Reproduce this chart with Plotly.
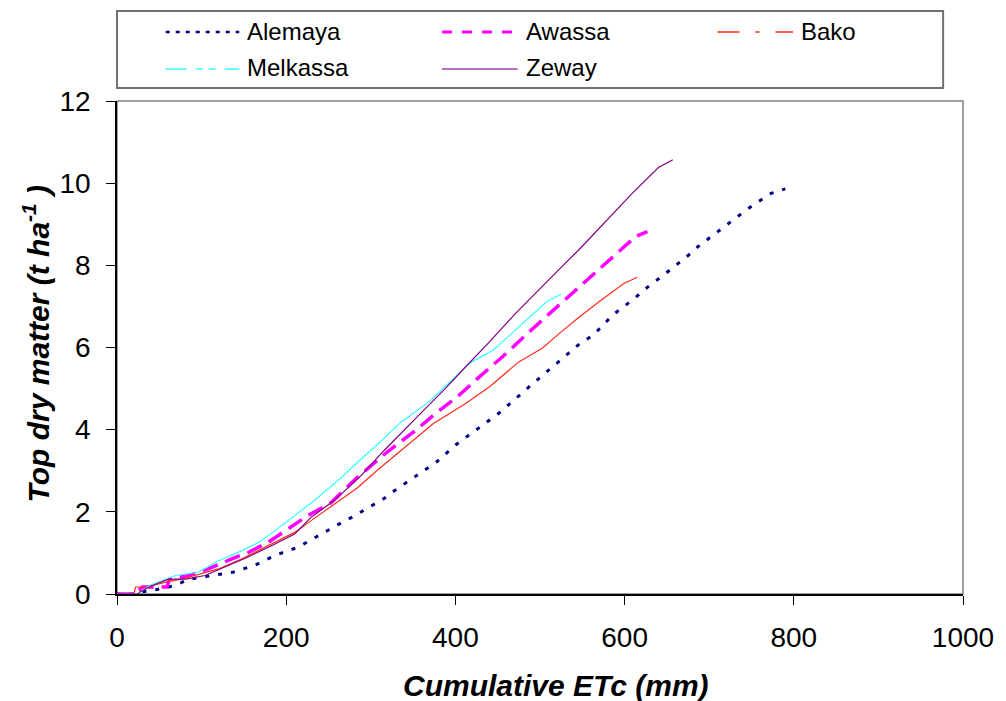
import plotly.graph_objects as go

# Cumulative crop evapotranspiration (mm) and top dry matter (t/ha) per site
alemaya_etc = [0, 25, 29, 45, 61, 70, 85, 110, 137, 163, 188, 214, 237, 264, 278, 316, 327, 351,
               378, 401, 425, 452, 487, 525, 548, 563, 586, 612, 624, 649, 674, 687, 710, 724,
               748, 773, 790]
alemaya_dm = [0, 0, 0.05, 0.10, 0.17, 0.22, 0.36, 0.44, 0.53, 0.70, 0.95, 1.14, 1.41, 1.72, 1.87,
              2.33, 2.50, 2.84, 3.22, 3.64, 4.00, 4.41, 5.04, 5.70, 6.11, 6.30, 6.79, 7.20, 7.42,
              7.81, 8.22, 8.46, 8.82, 9.02, 9.41, 9.75, 9.86]

awassa_etc = [0, 23, 25, 30, 59, 62, 85, 108, 135, 155, 178, 202, 225, 253, 282, 319, 354, 374,
              405, 428, 456, 492, 525, 558, 581, 613, 627]
awassa_dm = [0, 0, 0.08, 0.17, 0.17, 0.36, 0.45, 0.61, 0.85, 1.01, 1.25, 1.58, 1.90, 2.22, 2.80,
             3.45, 4.00, 4.35, 4.85, 5.28, 5.78, 6.47, 7.08, 7.68, 8.12, 8.70, 8.82]

bako_etc = [0, 20, 22, 29, 41, 60, 76, 96, 120, 147, 167, 186, 210, 229, 262, 284, 307, 331, 354,
            374, 413, 440, 475, 503, 525, 545, 569, 599, 615]
bako_dm = [0, 0, 0.17, 0.17, 0.20, 0.30, 0.36, 0.48, 0.61, 0.85, 1.05, 1.25, 1.50, 1.78, 2.25,
           2.58, 3.00, 3.42, 3.80, 4.15, 4.65, 5.04, 5.65, 5.99, 6.38, 6.72, 7.10, 7.56, 7.71]

melkassa_etc = [0, 25, 28, 38, 57, 69, 96, 120, 147, 167, 186, 214, 234, 264, 284, 310, 335, 370,
                393, 417, 445, 480, 507, 525]
melkassa_dm = [0, 0, 0.05, 0.20, 0.36, 0.45, 0.53, 0.81, 1.05, 1.25, 1.53, 1.98, 2.29, 2.81,
               3.20, 3.68, 4.17, 4.70, 5.16, 5.62, 5.94, 6.59, 7.10, 7.30]

zeway_etc = [0, 25, 27, 41, 61, 81, 104, 131, 155, 182, 210, 229, 257, 287, 316, 358, 388, 413,
             440, 472, 509, 525, 546, 568, 609, 640, 657]
zeway_dm = [0, 0, 0.05, 0.20, 0.36, 0.36, 0.45, 0.69, 0.90, 1.17, 1.46, 1.86, 2.28, 2.85, 3.50,
            4.38, 5.00, 5.55, 6.13, 6.85, 7.60, 7.95, 8.38, 8.85, 9.75, 10.38, 10.57]

site_names = ["Alemaya", "Awassa", "Bako", "Melkassa", "Zeway"]
x_ticks = [0, 200, 400, 600, 800, 1000]
y_ticks = [0, 2, 4, 6, 8, 10, 12]

FONT = "Liberation Sans, Arial, sans-serif"
W, H = 1006, 701
L, R, T, B = 117, 38, 101, 107
PW, PH = W - L - R, H - T - B


def px(xp):
    return (xp - L) / PW


def py(yp):
    return (H - B - yp) / PH


series = [
    (alemaya_etc, alemaya_dm, dict(color="#000080", width=3, dash="4px,9px")),
    (awassa_etc, awassa_dm, dict(color="#FF00FF", width=3.5, dash="16px,8px")),
    (bako_etc, bako_dm, dict(color="#FF2A1A", width=1.2)),
    (melkassa_etc, melkassa_dm, dict(color="#33FFFF", width=1.2)),
    (zeway_etc, zeway_dm, dict(color="#800080", width=1.2)),
]

fig = go.Figure()
for name, (xs, ys, ln) in zip(site_names, series):
    fig.add_trace(go.Scatter(x=xs, y=ys, mode="lines", name=name, line=ln,
                             showlegend=False))

shapes = [
    # plot frame
    dict(type="rect", xref="paper", yref="paper", x0=0, y0=0, x1=1, y1=1,
         line=dict(color="#808080", width=1.5), layer="below"),
    # legend box
    dict(type="rect", xref="paper", yref="paper", x0=px(117), x1=px(948),
         y0=py(88), y1=py(11), line=dict(color="#707070", width=2),
         fillcolor="white"),
]

legend_styles = [
    dict(color="#000080", width=2.5, dash="4px,6px"),
    dict(color="#FF00FF", width=3, dash="10px,10px"),
    dict(color="#FF2A1A", width=1.5, dash="22px,16px,4px,16px"),
    dict(color="#33FFFF", width=1.5, dash="21px,9px,7px,6px,7px,9px"),
    dict(color="#A040A0", width=1.5),
]
legend_cols = [(166, 240), (444, 520), (721, 797)]
legend_rows = [32, 69]

annotations = []
for i, (name, st) in enumerate(zip(site_names, legend_styles)):
    c0, c1 = legend_cols[i % 3]
    ry = legend_rows[i // 3]
    shapes.append(dict(type="line", xref="paper", yref="paper", x0=px(c0), x1=px(c1),
                       y0=py(ry), y1=py(ry), line=st))
    annotations.append(dict(x=px(c1 + 6), y=py(ry - 1), xref="paper", yref="paper",
                            text=name, showarrow=False, xanchor="left", yanchor="middle",
                            font=dict(family=FONT, size=24, color="black")))

annotations.append(dict(x=px(559), y=py(685), xref="paper", yref="paper",
                        text="<b><i>Cumulative ETc (mm)</i></b>", showarrow=False,
                        xanchor="center", yanchor="middle",
                        font=dict(family=FONT, size=30, color="black")))
annotations.append(dict(x=px(36), y=py(343), xref="paper", yref="paper",
                        text="<b><i>Top dry matter (t ha<sup>-1</sup> )</i></b>",
                        showarrow=False, textangle=-90, xanchor="center", yanchor="middle",
                        font=dict(family=FONT, size=30, color="black")))

axis_common = dict(showgrid=False, zeroline=False, showline=True, linecolor="black",
                   linewidth=1.5, ticks="outside", ticklen=9, tickwidth=1.2,
                   tickcolor="black", tickfont=dict(family=FONT, size=28, color="black"))

fig.update_layout(
    width=W, height=H,
    margin=dict(l=L, r=R, t=T, b=B, pad=0),
    paper_bgcolor="white", plot_bgcolor="white",
    xaxis=dict(range=[0, 1000], tickvals=x_ticks, ticklabelstandoff=9, **axis_common),
    yaxis=dict(range=[0, 12], tickvals=y_ticks, ticklabelstandoff=10, **axis_common),
    shapes=shapes,
    annotations=annotations,
    showlegend=False,
)

fig.write_html("out.html")
